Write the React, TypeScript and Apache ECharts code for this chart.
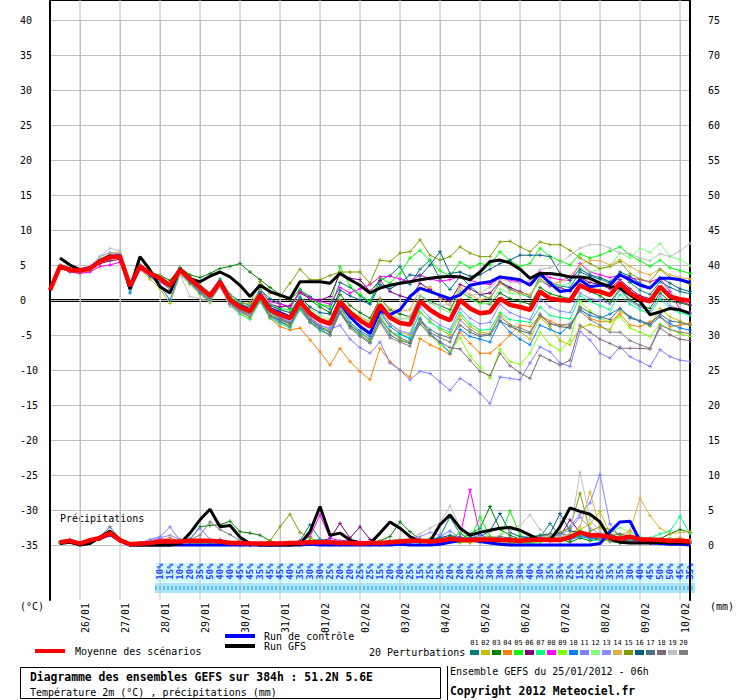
import React, { useEffect, useRef } from 'react';
import * as echarts from 'echarts';

const FONT = '"DejaVu Sans Mono", monospace';

// 65 time steps, 6 h apart, from 25/01/2012 06h to 10/02/2012 06h
const stepHours = Array.from({ length: 65 }, (_, i) => String(i * 6));
const dateLabels = ['26/01','27/01','28/01','29/01','30/01','31/01','01/02','02/02','03/02','04/02','05/02','06/02','07/02','08/02','09/02','10/02'];
const firstDateIdx = 3; // 26/01 00h is step 3, then every 4 steps

const leftTicks = { min: -35, max: 40, step: 5 };
const rightTicks = { min: 0, max: 75, step: 5 };

// ---------- temperature (°C) ----------
const meanT = [1.4, 4.8,4.3,4.2,4.5, 5.5,6.1,6.2,2.0, 4.8,3.8,3.1,2.1, 4.3,3.0,1.8,0.6, 2.6,0.0,-1.0,-1.6, 0.7,-1.4,-2.1,-2.6, -0.2,-1.9,-2.9,-3.4, -0.2,-1.8,-2.9,-3.8, -0.7,-2.5,-3.3,-3.5, -0.2,-1.4,-2.3,-2.9, 0.0,-1.2,-1.9,-1.7, 0.2,-0.7,-1.0,-1.4, 1.2,0.2,0.0,-0.1, 2.1,1.4,1.2,0.7, 2.4,1.0,0.2,-0.2, 1.9,0.5,0.1,-0.1];
const gfsT = [null, 6.0,5.0,4.3,4.5, 5.6,6.3,6.2,1.6, 6.2,4.3,1.9,1.0, 4.5,3.1,2.6,3.4, 4.0,3.3,2.1,0.5, 2.1,1.2,0.7,0.2, 2.6,2.6,2.6,2.4, 3.8,2.9,2.1,1.0, 1.7,2.1,2.4,2.6, 2.9,3.1,3.3,3.4, 3.3,2.9,4.0,5.5, 5.7,5.3,4.4,3.1, 3.8,3.8,3.6,3.3, 3.3,3.1,2.4,1.9, 1.7,0.7,-0.2,-2.1, -1.7,-1.2,-1.4,-1.9];
const controlT = [null, 4.9,4.4,4.3,4.6, 5.6,6.2,6.3,2.0, 4.9,3.8,3.0,2.0, 4.3,3.0,1.8,0.6, 2.6,0.0,-0.9,-1.5, 0.8,-1.2,-1.8,-2.4, -0.2,-1.8,-2.8,-3.4, -0.4,-2.4,-3.8,-4.8, -1.6,-2.1,-1.4,0.5, 1.7,1.2,0.7,0.2, 0.7,2.1,2.4,2.6, 3.3,3.1,2.9,2.1, 3.8,2.4,1.2,1.4, 2.9,1.9,2.1,2.1, 3.6,2.9,2.1,1.7, 3.1,3.1,2.9,2.5];

const p01T = [null, 5.0,4.5,4.0,4.3, 5.3,6.0,6.4,2.3, 5.0,3.5,2.8,1.8, 4.6,3.3,2.2,1.0, 3.0,0.8,-0.2,-0.8, 1.5,0.2,-0.5,-1.2, 1.4,0.5,-0.6,-1.3, 2.5,1.8,0.6,-0.4, 2.8,3.5,4.8,2.2, 4.4,5.7,3.0,1.5, 3.4,2.0,0.8,0.2, 2.5,1.6,0.9,0.4, 3.4,2.6,2.0,1.8, 4.0,3.4,3.0,2.4, 3.8,2.5,1.4,0.8, 2.6,1.8,1.2,0.9];
const p02T = [null, 4.5,4.0,3.8,4.2, 5.2,5.9,6.0,1.6, 4.4,3.0,1.6,-0.5, 3.6,2.2,0.8,-0.4, 2.0,-0.8,-2.0,-2.6, 0.0,-2.2,-3.0,-3.6, -1.0,-2.8,-3.9,-4.4, -1.2,-2.5,-3.6,-4.6, -1.4,-3.4,-4.6,-5.0, -1.8,-3.0,-4.2,-5.0, -2.2,-3.8,-4.6,-4.8, -2.0,-3.5,-4.5,-5.6, -2.5,-3.8,-5.8,-6.4, -4.0,-3.5,-3.9,-4.2, -1.6,-2.4,-3.0,-3.8, -1.2,-2.4,-3.0,-3.6];
const p03T = [null, 4.8,4.4,4.3,4.7, 5.6,6.0,6.1,2.5, 5.0,4.0,3.5,2.8, 4.6,3.6,3.2,3.8, 4.5,4.8,5.2,4.0, 2.9,1.8,0.8,0.0, 1.5,0.0,-1.0,-1.8, 0.8,-0.8,-1.8,-2.6, 0.2,-1.4,-2.0,-2.4, 0.6,-0.2,-0.8,-1.4, 1.2,0.3,-0.4,-0.6, 1.0,0.2,-0.2,-0.6, 1.8,0.9,0.5,0.2, 2.2,1.2,0.6,-0.3, 1.6,0.0,-0.8,-1.2, 1.0,-0.2,-0.4,-0.8];
const p04T = [null, 4.6,4.2,4.1,4.4, 5.4,6.0,6.1,1.8, 4.7,3.6,2.9,1.9, 4.0,2.8,1.5,0.2, 2.2,-0.5,-1.6,-2.3, -0.2,-2.6,-3.8,-4.3, -4.0,-5.7,-7.4,-9.3, -6.9,-8.8,-10.2,-11.4, -6.9,-8.8,-10.0,-11.0, -5.5,-6.4,-7.0,-7.8, -4.6,-6.2,-7.6,-7.6, -6.4,-5.0,-3.6,-3.8, -2.2,-3.0,-3.6,-3.8, -1.2,-2.6,-3.1,-3.1, -2.0,-3.6,-3.8,-3.1, -2.4,-3.8,-3.6,-3.3];
const p05T = [null, 4.9,4.4,4.3,4.6, 5.7,6.3,6.4,2.2, 5.0,3.9,3.2,2.3, 4.4,3.2,2.0,0.9, 2.8,0.4,-0.6,-1.0, 1.6,-0.6,-1.2,-1.4, 1.5,0.2,-0.6,-0.9, 4.8,2.0,0.8,-0.2, 3.2,2.4,3.8,6.0, 7.1,5.6,4.2,3.4, 5.4,4.6,5.2,5.0, 6.9,5.6,4.8,5.2, 7.4,6.2,5.6,5.0, 6.6,6.0,6.4,7.0, 7.6,6.4,5.6,4.8, 5.7,4.6,4.2,3.8];
const p06T = [null, 4.7,4.3,4.2,4.4, 5.2,5.6,5.8,1.7, 4.6,3.6,3.0,2.0, 4.2,2.9,1.6,0.4, 2.6,0.2,-0.6,-1.2, 1.2,-0.6,-1.0,-0.8, 1.0,0.2,0.0,0.5, 3.8,3.1,2.9,1.2, 2.8,1.2,0.6,0.2, 2.4,1.5,0.4,-0.2, 2.2,1.6,0.8,1.0, 2.6,1.8,1.2,0.6, 2.8,2.0,1.8,1.2, 3.2,2.5,2.2,1.6, 2.9,1.6,0.6,0.2, 1.6,0.4,-0.2,-0.7];
const p07T = [null, 4.6,4.1,4.1,4.4, 5.4,6.2,6.3,1.9, 4.9,3.7,2.8,1.6, 4.1,2.6,1.2,-0.2, 2.0,-0.8,-2.0,-2.8, -0.2,-2.6,-3.4,-4.0, -1.4,-3.2,-4.4,-5.0, -1.6,-3.6,-4.8,-5.6, -2.6,-4.6,-5.0,-5.4, -1.6,-3.2,-4.0,-4.6, -1.8,-3.4,-4.3,-4.2, -1.8,-2.8,-3.0,-3.2, -1.0,-2.2,-2.5,-2.7, 0.6,-0.2,-0.8,-1.4, 0.8,-0.6,-1.4,-2.0, 0.2,-1.2,-1.8,-2.2];
const p08T = [null, 4.6,4.0,3.8,4.0, 4.8,5.0,5.4,1.8, 4.4,3.4,2.6,1.6, 4.0,2.6,1.4,0.4, 2.4,0.0,-0.6,-1.0, 1.4,-0.2,-0.6,-0.9, 1.2,0.2,-0.2,-0.6, 1.8,1.0,1.6,2.2, 3.3,3.4,3.0,2.6, 3.6,3.0,2.7,2.9, 3.4,2.8,2.4,2.2, 3.2,2.8,2.6,2.4, 4.0,3.2,2.9,2.8, 5.2,4.0,3.6,3.2, 3.6,3.2,2.9,2.6, 3.1,1.2,-1.4,-1.9];
const p09T = [null, 4.7,4.2,4.1,4.5, 5.5,6.0,6.1,2.1, 4.7,3.6,2.8,1.8, 4.0,2.6,1.2,0.0, 2.0,-0.8,-1.8,-2.4, 0.2,-2.0,-2.8,-3.4, -0.6,-2.6,-3.8,-4.4, -1.4,-3.4,-4.6,-5.8, -2.2,-4.4,-5.6,-6.2, -3.0,-5.0,-6.4,-7.4, -5.4,-8.0,-9.6,-11.2, -7.0,-8.8,-9.2,-7.6, -4.6,-6.4,-7.2,-5.8, -0.2,-1.6,-2.6,-3.2, -2.4,-4.0,-4.6,-5.2, -3.4,-4.2,-4.8,-5.2];
const p10T = [null, 4.7,4.4,4.2,4.5, 5.8,6.4,6.0,1.0, 4.6,3.4,2.0,0.0, 3.8,2.4,1.0,-0.2, 2.2,-0.6,-1.8,-2.2, 0.2,-2.2,-3.0,-3.8, -0.8,-2.8,-4.0,-4.6, -1.0,-3.2,-4.4,-5.2, -1.8,-3.8,-4.8,-5.6, -2.6,-4.8,-6.0,-7.6, -4.2,-5.2,-5.6,-6.0, -3.0,-4.6,-5.6,-6.4, -3.6,-4.2,-4.8,-3.6, -1.4,-2.2,-2.6,-2.0, -1.2,-2.4,-3.0,-3.6, -2.4,-3.4,-4.0,-4.3];
const p11T = [null, 4.8,4.3,4.2,4.5, 5.6,6.3,6.6,2.4, 4.9,3.9,3.2,2.0, 4.2,2.9,1.6,0.3, 2.3,-0.4,-1.4,-2.0, 0.4,-1.8,-2.6,-3.2, -0.8,-2.6,-3.6,-4.2, -3.6,-5.6,-6.8,-7.6, -6.0,-9.0,-10.0,-11.4, -10.2,-10.5,-11.7,-12.9, -11.2,-12.1,-13.3,-14.8, -11.0,-11.2,-11.4,-9.0, -6.7,-7.4,-9.0,-9.5, -4.5,-5.7,-7.6,-8.3, -6.7,-8.1,-8.8,-9.5, -7.1,-8.1,-8.6,-8.8];
const p12T = [null, 4.8,4.3,4.3,4.6, 5.6,6.2,6.3,1.9, 4.8,3.9,3.3,2.4, 4.5,3.2,2.2,1.0, 2.8,0.6,-0.4,-1.0, 1.4,-0.6,-1.4,-1.8, 0.6,-1.2,-2.2,-2.8, 0.0,-1.4,-2.4,-3.0, -0.4,-2.0,-2.6,-2.8, 0.6,-0.4,-1.2,-1.8, 1.2,0.2,-0.6,-0.4, 1.6,1.0,0.8,0.6, 2.8,2.2,2.0,2.4, 4.6,4.0,4.4,4.8, 6.7,6.0,7.4,6.8, 8.1,6.2,5.8,4.9];
const p13T = [null, 4.9,4.5,4.4,4.7, 6.2,6.8,6.6,2.2, 5.0,3.9,3.0,1.9, 4.3,3.0,1.7,0.4, 2.4,-0.2,-1.2,-1.8, 0.6,-1.6,-2.4,-3.0, -0.4,-2.4,-3.6,-4.0, -0.8,-2.6,-3.8,-4.6, -1.6,-3.4,-4.4,-4.8, -1.0,-2.6,-3.6,-4.2, -1.2,-2.6,-3.4,-3.2, -0.6,-1.8,-2.4,-2.8, 0.2,-1.0,-1.6,-1.8, 1.0,0.2,0.0,-0.6, 1.4,-0.2,-1.0,-1.6, 0.6,-0.8,-1.4,-1.8];
const p14T = [null, 4.9,4.6,4.5,4.8, 5.9,6.6,6.9,2.1, 5.1,4.0,3.3,2.3, 4.5,3.1,1.9,0.7, 2.7,0.1,-0.9,-1.4, 0.9,-1.2,-1.9,-2.4, -0.2,-1.8,-2.6,-3.0, -0.2,-1.6,-2.4,-3.2, 0.2,-1.2,-1.6,-1.4, 1.6,1.9,0.2,-0.8, 1.8,0.8,0.0,0.4, 2.4,1.4,1.0,0.8, 3.0,2.2,2.6,3.4, 5.0,5.7,5.6,5.0, 5.8,4.8,4.0,3.6, 4.4,3.6,3.2,3.0];
const p15T = [null, 4.9,4.5,4.3,4.5, 5.4,6.0,6.2,2.0, 4.8,3.7,3.0,2.0, 4.2,2.9,1.8,0.7, 2.8,0.5,-0.6,-0.4, 2.6,1.0,0.5,2.4, 4.4,2.9,2.9,3.5, 4.0,4.0,4.0,2.4, 5.7,5.5,6.7,6.9, 8.6,6.4,5.7,6.2, 7.6,6.7,6.2,6.2, 8.3,8.4,7.6,6.9, 8.3,7.9,7.9,7.1, 6.0,5.2,4.5,4.8, 5.5,3.8,3.0,2.6, 4.4,3.2,2.8,2.2];
const p16T = [null, 4.7,4.2,4.2,4.4, 5.3,5.9,6.1,2.0, 4.8,3.8,3.0,2.0, 4.2,3.0,1.8,0.7, 2.8,0.2,-0.6,-1.2, 1.0,-0.8,-1.4,-1.8, 0.4,-1.0,-1.8,-2.0, 1.4,0.6,0.0,-0.6, 2.2,1.6,2.4,3.6, 3.4,5.0,6.9,3.8, 4.0,3.4,3.6,4.4, 5.2,5.7,6.4,6.4, 6.4,6.2,3.8,2.8, 4.4,3.6,3.2,2.6, 4.0,3.4,2.4,1.8, 3.2,2.4,1.6,1.2];
const p17T = [null, 4.6,4.1,4.1,4.4, 5.5,6.1,6.3,1.7, 4.6,3.5,2.7,1.6, 4.0,2.6,1.2,0.0, 2.0,-0.6,-1.6,-2.2, 0.0,-2.2,-2.8,-3.4, -1.2,-3.2,-4.2,-5.0, -1.8,-3.8,-5.0,-6.0, -3.0,-5.0,-5.8,-6.2, -2.8,-4.2,-5.0,-5.4, -3.6,-4.6,-5.2,-5.0, -3.0,-3.8,-4.4,-4.8, -2.2,-3.4,-3.8,-4.0, -1.0,-1.8,-2.4,-2.8, -1.2,-2.6,-3.0,-3.4, -2.0,-3.0,-3.2,-3.6];
const p18T = [null, 4.7,4.3,4.1,4.4, 5.5,6.2,6.3,1.8, 4.7,3.6,2.9,1.9, 4.1,2.8,1.5,0.3, 2.3,-0.3,-1.4,-2.0, 0.3,-1.8,-2.6,-3.2, -0.8,-2.8,-3.8,-4.6, -1.6,-3.6,-4.6,-5.6, -2.6,-4.4,-5.4,-6.0, -3.4,-5.0,-6.0,-6.8, -7.0,-8.6,-10.2,-10.8, -7.6,-9.4,-10.4,-11.2, -7.9,-8.6,-9.3,-8.6, -3.6,-4.6,-5.6,-6.2, -6.9,-6.9,-6.9,-7.0, -4.0,-5.0,-5.6,-5.8];
const p19T = [null, 5.0,4.6,4.5,4.9, 6.2,7.4,7.0,2.4, 5.2,3.8,2.8,1.7, 3.6,0.5,0.2,-0.2, 1.8,-0.8,-1.8,-2.2, 0.4,-1.6,-2.2,-2.8, -0.2,-1.8,-2.8,-3.4, -0.2,-1.8,-3.0,-3.6, -0.6,-2.2,-2.8,-2.4, 0.6,-0.4,-0.8,-0.6, 1.4,0.6,1.0,1.8, 3.0,2.6,2.4,2.8, 4.4,4.6,5.2,6.4, 7.4,7.9,7.9,7.4, 6.7,6.6,6.0,5.6, 6.6,6.2,7.0,8.1];
const p20T = [null, 4.7,4.2,4.1,4.3, 5.4,6.0,6.1,1.9, 4.8,3.8,3.0,2.0, 4.2,2.8,1.4,0.2, 2.2,-0.6,-1.6,-2.4, 0.0,-2.4,-3.2,-3.8, -1.0,-3.0,-4.2,-5.0, -1.8,-4.0,-5.2,-6.2, -3.2,-5.4,-6.0,-6.6, -3.0,-4.6,-5.4,-6.0, -2.8,-4.2,-5.0,-4.8, -2.4,-3.6,-4.0,-4.6, -2.0,-3.4,-3.6,-3.4, -1.6,-2.8,-3.6,-4.6, -4.6,-5.8,-6.4,-6.9, -3.6,-4.2,-4.6,-4.8];

// ---------- precipitation (mm) ----------
const meanP = [null, 0.4,0.6,0.2,0.7,1.0,1.7,0.7,0.1, 0.2,0.3,0.5,0.5,0.5,0.6,0.6,0.6, 0.5,0.3,0.3,0.2,0.2,0.2,0.2,0.3, 0.3,0.4,0.4,0.4,0.3,0.3,0.2,0.3, 0.3,0.4,0.5,0.6,0.6,0.5,0.6,0.9, 0.7,0.7,0.8,0.8,0.7,0.7,0.6,0.7, 0.8,0.7,0.7,1.1,1.8,1.4,1.4,1.1, 0.9,1.2,0.8,0.8,0.7,0.6,0.6,0.5];
const gfsP = [null, 0.2,0.4,0.0,0.2,1.1,2.0,0.7,0.0, 0.0,0.0,0.0,0.0,0.2,1.7,3.6,5.1, 2.6,2.8,1.1,0.2,0.0,0.0,0.0,0.0, 0.1,1.9,5.5,1.4,1.7,0.7,0.3,0.2, 1.7,3.3,2.4,1.2,0.5,0.5,2.9,4.3, 2.4,1.4,1.8,2.1,2.4,2.5,2.1,1.4, 0.7,0.7,2.6,5.3,4.8,4.4,3.3,0.9, 0.4,0.3,0.3,0.3,0.4,0.3,0.3,0.3];
const controlP = [null, 0.3,0.5,0.1,0.6,0.9,1.5,0.6,0.0, 0.0,0.0,0.0,0.0,0.0,0.0,0.0,0.0, 0.0,0.0,0.0,0.0,0.0,0.0,0.0,0.0, 0.0,0.1,0.0,0.0,0.0,0.0,0.0,0.0, 0.0,0.0,0.1,0.0,0.0,0.0,0.1,0.4, 0.6,0.8,0.5,0.3,0.1,0.0,0.0,0.0, 0.0,0.0,0.0,0.0,0.0,0.0,0.2,1.9, 3.3,3.4,0.6,0.3,0.2,0.1,0.1,0.0];

const p01P = [null, 0.3,0.5,0.1,0.6,0.9,1.6,0.6,0.0, 0.1,0.2,0.4,0.6,0.3,0.5,0.8,0.4, 0.2,0.1,0.0,0.0,0.0,0.1,0.2,0.3, 0.6,2.9,0.8,0.2,0.1,0.3,0.2,0.0, 0.1,0.2,0.4,0.5,0.3,0.6,1.2,4.0, 1.6,0.9,0.6,0.4,0.8,1.0,0.6,0.9, 1.1,3.1,1.2,0.7,1.5,0.9,1.0,0.6, 0.4,0.8,0.5,0.3,0.2,0.4,0.3,0.2];
const p02P = [null, 0.4,0.6,0.2,0.5,0.8,1.4,0.5,0.0, 0.0,0.0,0.1,0.0,0.0,0.0,0.1,0.0, 0.0,0.1,0.2,0.1,0.0,0.0,0.0,0.1, 0.2,0.1,0.0,0.2,0.3,0.1,0.0,0.1, 0.2,0.3,0.2,0.6,0.4,0.3,0.5,0.8, 0.5,0.3,0.6,0.4,0.3,0.2,0.5,0.6, 0.4,0.8,0.6,1.0,2.2,3.0,4.8,1.6, 0.8,0.6,0.4,0.5,0.8,0.6,0.4,0.3];
const p03P = [null, 0.3,0.5,0.2,0.6,1.0,1.5,0.6,0.1, 0.2,0.3,0.4,0.3,0.5,0.8,2.6,2.8, 2.9,3.4,1.9,1.7,1.4,0.6,0.2,0.1, 0.1,0.3,0.2,0.4,0.2,0.1,0.0,0.3, 0.6,1.2,3.3,1.9,0.8,0.6,0.4,1.2, 0.8,1.6,2.4,5.5,2.2,1.4,0.8,0.5, 0.6,1.2,0.8,0.4,1.0,0.6,0.9,0.5, 0.3,0.6,0.4,0.5,0.9,1.6,2.2,1.8];
const p04P = [null, 0.4,0.7,0.2,0.6,1.1,1.8,0.7,0.1, 0.2,0.3,0.6,1.1,0.4,0.3,0.2,0.1, 0.1,0.0,0.0,0.0,0.0,0.0,0.0,0.0, 0.1,0.2,0.1,0.0,0.0,0.1,0.0,0.0, 0.0,0.1,0.2,0.3,0.5,0.4,0.6,0.9, 0.6,0.4,0.5,0.7,0.6,0.4,0.3,0.5, 0.7,0.5,0.8,0.9,1.4,1.0,1.2,0.9, 0.6,2.0,0.9,0.6,0.5,0.8,1.0,0.7];
const p05P = [null, 0.4,0.6,0.3,0.7,1.0,1.6,0.7,0.2, 0.2,0.3,0.5,0.4,0.6,0.7,0.5,0.6, 0.4,0.2,0.3,0.1,0.2,0.1,0.3,0.2, 0.2,0.5,0.4,0.3,0.4,0.2,0.1,0.2, 0.3,0.5,0.6,0.4,0.8,0.5,0.7,1.0, 1.7,0.8,4.0,1.2,0.9,4.9,1.4,0.8, 0.6,0.7,0.5,0.9,1.3,1.6,1.2,0.8, 0.7,1.0,0.6,0.4,0.3,0.2,0.4,0.3];
const p06P = [null, 0.3,0.5,0.2,0.6,0.9,1.4,0.6,0.1, 0.1,0.2,0.3,0.4,0.3,0.5,0.6,0.5, 0.8,0.4,0.2,0.1,0.0,0.1,0.0,0.1, 0.2,0.4,0.6,0.9,3.1,1.0,2.6,0.8, 0.3,0.2,0.3,0.4,0.5,0.3,0.4,0.7, 0.5,0.6,0.4,0.6,0.8,0.5,0.7,0.9, 1.0,0.6,1.2,3.6,1.8,1.1,0.9,0.7, 0.5,0.8,0.6,0.4,0.3,0.5,0.6,0.4];
const p07P = [null, 0.4,0.6,0.1,0.6,0.9,1.7,0.8,0.1, 0.3,0.4,0.6,0.5,0.6,0.5,0.4,0.6, 0.3,0.2,0.1,0.0,0.0,0.0,0.1,0.2, 0.1,0.2,0.3,0.1,0.2,0.1,0.0,0.1, 0.1,0.2,0.4,0.6,0.7,0.5,0.8,0.6, 0.4,1.2,2.5,0.9,0.6,0.8,0.5,0.3, 0.5,0.6,0.8,1.0,1.4,0.8,0.6,0.9, 1.2,0.8,0.6,1.0,1.6,2.0,4.1,1.6];
const p08P = [null, 0.3,0.5,0.2,0.7,1.0,1.6,0.6,0.1, 0.2,0.4,0.9,0.7,0.5,0.6,0.7,0.6, 0.4,0.3,0.4,0.3,0.2,0.4,0.3,0.4, 0.6,1.2,4.3,1.0,0.6,0.7,0.5,0.4, 0.3,0.2,0.4,0.5,0.6,0.8,0.6,0.9, 1.2,7.9,1.5,0.8,1.0,0.6,0.7,0.5, 0.8,0.6,0.9,1.2,1.6,1.0,0.8,0.6, 0.5,0.4,0.6,0.5,0.3,0.4,0.3,0.2];
const p09P = [null, 0.4,0.6,0.2,0.6,1.0,1.5,0.7,0.0, 0.1,0.2,0.3,0.4,0.5,0.4,0.3,0.2, 0.1,0.0,0.0,0.0,0.0,0.0,0.1,0.1, 0.0,0.1,0.2,0.1,0.0,0.0,0.0,0.1, 0.2,0.1,0.3,0.4,0.3,0.6,0.5,0.4, 0.3,0.5,0.4,0.2,0.1,0.2,0.3,0.2, 0.4,0.6,1.0,1.6,2.2,1.2,0.8,0.6, 0.9,0.7,0.5,0.4,0.6,0.5,0.4,0.3];
const p10P = [null, 0.4,0.5,0.2,0.7,1.1,1.8,0.8,0.1, 0.2,0.3,0.5,0.6,0.7,0.5,0.6,0.4, 0.3,0.2,0.1,0.0,0.0,0.0,0.1,0.2, 0.3,0.6,0.8,0.4,0.2,0.3,0.2,0.1, 0.2,0.4,0.6,0.5,0.4,0.7,0.9,0.6, 0.8,1.0,1.4,0.9,0.7,0.6,0.5,0.8, 1.0,0.9,0.7,0.8,1.2,1.0,0.9,1.4, 1.0,0.8,0.6,0.5,0.4,0.6,0.5,0.4];
const p11P = [null, 0.4,0.6,0.2,0.6,1.0,1.6,0.7,0.1, 0.3,0.8,1.2,2.6,0.6,0.9,2.4,0.8, 0.4,0.3,0.2,0.1,0.0,0.1,0.1,0.2, 0.2,0.3,0.4,0.6,0.5,0.4,0.3,0.2, 0.3,0.5,0.4,0.6,0.8,0.6,1.2,2.0, 1.0,0.8,0.6,0.7,0.9,0.8,0.6,1.0, 1.2,1.4,1.6,2.6,4.4,6.0,10.1,3.0, 1.2,0.8,0.5,0.6,0.4,0.5,0.4,0.3];
const p12P = [null, 0.3,0.5,0.2,0.6,0.9,1.5,0.6,0.1, 0.2,0.3,0.4,0.5,0.4,0.6,0.5,0.4, 0.3,0.2,0.1,0.1,0.0,0.1,0.2,0.1, 0.2,0.3,0.2,0.3,0.4,0.2,0.1,0.2, 0.3,0.4,0.5,0.7,0.6,0.8,0.7,1.0, 0.9,0.7,0.8,1.1,0.9,0.7,0.8,1.2, 1.4,1.0,0.9,1.2,2.0,1.6,1.4,1.8, 2.5,1.8,1.2,0.9,0.8,1.0,0.7,0.5];
const p13P = [null, 0.4,0.6,0.2,0.7,1.0,1.9,0.8,0.1, 0.2,0.6,1.0,1.4,0.8,0.6,0.5,0.4, 0.2,0.1,0.2,0.1,0.0,0.1,0.2,0.2, 0.3,0.5,0.6,0.5,0.6,0.4,0.3,0.2, 0.3,0.6,0.8,0.7,1.2,1.8,1.4,1.0, 0.8,0.6,0.9,1.0,0.8,0.7,0.9,1.4, 1.2,1.0,1.5,2.2,4.0,2.4,1.6,1.2, 1.0,1.4,1.0,0.8,0.6,0.7,0.5,0.4];
const p14P = [null, 0.4,0.6,0.2,0.6,1.0,1.6,0.7,0.1, 0.2,0.3,0.4,0.5,0.6,0.5,0.7,0.6, 0.4,0.2,0.1,0.1,0.0,0.1,0.1,0.2, 0.2,0.3,0.5,0.4,0.3,0.2,0.2,0.3, 0.4,0.5,0.8,0.6,0.7,0.9,0.8,0.7, 0.9,0.6,0.7,0.8,0.6,0.8,1.0,0.7, 0.9,1.2,1.0,1.5,2.6,7.6,2.4,1.6, 1.4,2.0,6.7,4.2,2.4,1.6,1.8,1.9];
const p15P = [null, 0.3,0.5,0.2,0.6,0.9,1.5,0.7,0.1, 0.2,0.3,0.4,0.5,0.6,0.7,0.6,0.5, 0.4,0.3,0.2,0.1,0.1,0.6,2.6,4.4, 1.8,1.0,0.5,0.3,0.2,0.3,0.2,0.1, 0.2,0.4,0.6,0.5,0.7,0.6,0.8,0.9, 0.7,0.9,1.0,1.2,1.0,0.8,0.9,1.1, 1.3,1.5,1.8,2.4,7.4,2.0,2.6,2.2, 1.4,1.0,0.8,0.7,0.6,0.5,0.7,0.6];
const p16P = [null, 0.4,0.6,0.2,0.7,1.0,1.7,0.7,0.1, 0.2,0.3,0.5,0.6,0.5,0.6,0.7,0.5, 0.3,0.2,0.1,0.0,0.1,0.0,0.1,0.2, 0.3,0.5,0.7,0.6,0.4,0.3,0.2,0.2, 0.3,0.4,0.6,0.5,0.6,0.8,1.0,1.4, 1.0,0.9,1.2,2.0,4.5,1.8,1.2,1.0, 1.4,1.6,4.5,2.0,1.8,1.6,1.4,1.5, 1.0,0.8,0.6,0.5,0.7,0.6,0.8,0.5];
const p17P = [null, 0.4,0.7,0.3,0.8,1.2,2.6,0.9,0.1, 0.2,0.3,0.4,0.5,0.4,0.6,0.5,0.4, 0.3,0.2,0.1,0.0,0.0,0.1,0.0,0.1, 0.2,0.3,0.4,0.3,0.2,0.3,0.2,0.1, 0.2,0.4,0.3,0.6,0.5,0.7,0.6,0.8, 0.9,1.1,0.8,0.9,1.2,1.0,0.8,0.7, 0.9,1.1,1.6,1.4,1.8,1.6,1.2,1.3, 1.6,1.2,0.8,0.6,0.5,0.6,0.5,0.4];
const p18P = [null, 0.4,0.6,0.2,0.6,1.0,1.7,0.7,0.1, 0.2,0.4,0.5,0.6,0.5,0.6,0.5,0.4, 0.3,0.2,0.1,0.1,0.0,0.0,0.1,0.1, 0.2,0.3,0.2,0.3,0.2,0.2,0.1,0.2, 0.2,0.3,0.4,0.5,0.4,0.6,0.5,0.7, 0.6,0.5,0.8,0.6,0.5,0.4,0.5,0.6, 0.7,0.8,1.0,1.2,1.6,1.2,1.0,0.8, 0.6,0.9,0.7,0.6,0.5,0.4,0.5,0.4];
const p19P = [null, 0.4,0.6,0.2,0.6,1.0,1.8,0.8,0.1, 0.3,0.4,0.5,0.6,0.6,0.7,0.8,0.7, 0.6,0.4,0.3,0.1,0.1,0.2,0.3,0.2, 0.3,0.4,0.5,0.4,0.3,0.4,0.2,0.3, 0.4,0.6,0.8,0.9,1.6,2.4,3.2,5.6, 2.6,1.4,1.2,1.0,1.4,2.0,2.8,4.3, 2.2,1.4,1.2,1.6,10.4,3.6,2.0,1.2, 0.9,1.0,0.8,0.7,0.6,0.8,0.7,0.6];
const p20P = [null, 0.4,0.6,0.2,0.7,1.0,1.8,0.8,0.1, 0.2,0.3,0.4,0.5,0.6,0.8,1.4,3.3, 2.2,1.5,0.6,0.2,0.1,0.2,0.1,0.3, 0.4,0.6,0.5,0.4,0.3,0.2,0.1,0.2, 0.3,0.5,0.4,0.7,0.6,0.9,0.7,0.8, 0.6,0.7,1.0,0.8,0.7,0.9,0.8,0.6, 0.8,1.0,0.9,1.3,1.5,1.2,1.0,0.9, 0.8,1.1,0.9,0.7,0.6,0.8,0.6,0.5];

const memberT = [p01T,p02T,p03T,p04T,p05T,p06T,p07T,p08T,p09T,p10T,p11T,p12T,p13T,p14T,p15T,p16T,p17T,p18T,p19T,p20T];
const memberP = [p01P,p02P,p03P,p04P,p05P,p06P,p07P,p08P,p09P,p10P,p11P,p12P,p13P,p14P,p15P,p16P,p17P,p18P,p19P,p20P];
const memberNames = ['01','02','03','04','05','06','07','08','09','10','11','12','13','14','15','16','17','18','19','20'];
const memberColors = ['#008080','#c0c000','#008000','#ff8000','#00ff00','#800080','#00ff80','#ff00ff','#80ff00','#0080ff','#8080ff','#80ff80','#8c8cff','#e0b040','#80a000','#006080','#507080','#806878','#c0c0c0','#808080'];

// probability row (first value at step 11)
const pctStart = 11;
const pctValues = [10,15,10,20,35,50,40,40,45,45,35,45,45,40,35,30,30,25,20,20,25,25,15,20,20,25,15,25,25,20,20,20,25,30,30,30,30,40,30,35,35,25,15,25,25,35,35,30,40,45,50,50,45,35];

const PLUS = 'path://M2,0L3,0L3,2L5,2L5,3L3,3L3,5L2,5L2,3L0,3L0,2L2,2Z';
const GRID_GREY = '#c0c0c0';

function buildOption() {
  const isDateIdx = (idx: number) => idx >= firstDateIdx && (idx - firstDateIdx) % 4 === 0;
  const dateIdx = dateLabels.map((_, k) => firstDateIdx + 4 * k);
  const series: any[] = [];

  // vertical day grid lines on the full-height grid, positioned by its category axis
  series.push({
    type: 'custom', coordinateSystem: 'cartesian2d', xAxisIndex: 0, yAxisIndex: 0, z: 1,
    data: dateIdx.map((i) => [i, 0]),
    renderItem: (_p: any, api: any) => {
      const a = api.coord([api.value(0), 0]);
      const b = api.coord([api.value(0), 600]);
      return { type: 'line', shape: { x1: a[0], y1: a[1], x2: b[0], y2: b[1] }, style: { stroke: GRID_GREY, lineWidth: 1 } };
    },
  });

  memberT.forEach((d, k) => {
    series.push({
      type: 'line', name: 'P' + memberNames[k], xAxisIndex: 1, yAxisIndex: 2, data: d,
      lineStyle: { width: 1, color: memberColors[k] }, itemStyle: { color: memberColors[k] },
      symbol: PLUS, symbolSize: 4, showSymbol: true, showAllSymbol: true, clip: false, silent: true, z: 2,
      markLine: k === 0 ? {
        silent: true, symbol: 'none', label: { show: false }, z: 1,
        lineStyle: { color: '#000', width: 1, type: 'solid' },
        data: [{ yAxis: 0.143 }, { yAxis: -0.143 }],
      } : (k === 1 ? {
        silent: true, symbol: 'none', label: { show: false }, z: 1,
        lineStyle: { color: GRID_GREY, width: 1, type: 'solid' },
        data: dateIdx.map((i) => ({ xAxis: i })),
      } : undefined),
    });
  });
  memberP.forEach((d, k) => {
    series.push({
      type: 'line', name: 'P' + memberNames[k], xAxisIndex: 1, yAxisIndex: 3, data: d,
      lineStyle: { width: 1, color: memberColors[k] }, itemStyle: { color: memberColors[k] },
      symbol: PLUS, symbolSize: 4, showSymbol: true, showAllSymbol: true, clip: false, silent: true, z: 2,
    });
  });
  const main = [
    { name: 'Run de contrôle', color: '#0000ff', t: controlT, p: controlP, w: 3, z: 3 },
    { name: 'Run GFS', color: '#000000', t: gfsT, p: gfsP, w: 3, z: 4 },
    { name: 'Moyenne des scénarios', color: '#ff0000', t: meanT, p: meanP, w: 4.5, z: 5 },
  ];
  main.forEach((m) => {
    series.push({ type: 'line', name: m.name, xAxisIndex: 1, yAxisIndex: 2, data: m.t, color: m.color,
      lineStyle: { width: m.w, color: m.color }, symbol: 'none', clip: false, silent: true, z: m.z });
    series.push({ type: 'line', name: m.name, xAxisIndex: 1, yAxisIndex: 3, data: m.p, color: m.color,
      lineStyle: { width: m.w, color: m.color }, symbol: 'none', clip: false, silent: true, z: m.z });
  });
  series.push({
    type: 'scatter', name: 'pct', xAxisIndex: 0, yAxisIndex: 0, symbolSize: 1, silent: true, z: 6,
    itemStyle: { color: 'rgba(0,0,0,0)' },
    data: pctValues.map((p, k) => [pctStart + k, 571.5, p]),
    label: { show: true, position: 'inside', rotate: 90, formatter: (pr: any) => pr.value[2] + '%',
      fontSize: 9, fontWeight: 'bold', color: '#0000ff', fontFamily: FONT },
  });

  const tx = (text: string, x: number, y: number, size: number, bold = false, align = 'left') => ({
    type: 'text', x, y, silent: true,
    style: { text, fontSize: size, fontFamily: FONT, fontWeight: bold ? 'bold' : 'normal', fill: '#000', align, verticalAlign: 'middle' },
  });

  const graphic: any[] = [
    { type: 'rect', silent: true, z: -1, shape: { x: 155, y: 563, width: 540, height: 19 }, style: { fill: '#ccfaff' } },
    { type: 'rect', silent: true, z: -1, shape: { x: 155, y: 583, width: 540, height: 10 }, style: { fill: '#a9e4fb' } },
    { type: 'line', silent: true, z: -1, shape: { x1: 155, y1: 588, x2: 695, y2: 588 }, style: { stroke: '#5ec4ef', lineWidth: 4, lineDash: [2, 2] } },
    tx('Précipitations', 60, 518, 10),
    tx('(°C)', 20, 606, 10),
    tx('(mm)', 710, 606, 10),
    tx('20 Perturbations', 369, 652, 10),
    { type: 'rect', silent: true, shape: { x: 20.5, y: 667.5, width: 420, height: 31 }, style: { fill: '#fff', stroke: '#000', lineWidth: 1 } },
    tx('Diagramme des ensembles GEFS sur 384h : 51.2N 5.6E', 30, 677, 11.4, true),
    tx('Température 2m (°C) , précipitations (mm)', 30, 692, 10),
    { type: 'line', silent: true, shape: { x1: 447.5, y1: 666, x2: 447.5, y2: 700 }, style: { stroke: '#000', lineWidth: 1 } },
    tx('Ensemble GEFS du 25/01/2012 - 06h', 450, 671, 10),
    tx('Copyright 2012 Meteociel.fr', 450, 691, 11.4, true),
  ];
  memberColors.forEach((c, k) => {
    graphic.push({ type: 'rect', silent: true, shape: { x: 470 + 11 * k, y: 650, width: 9, height: 5 }, style: { fill: c } });
    graphic.push(tx(memberNames[k], 474.5 + 11 * k, 643, 7, false, 'center'));
  });

  const legendBase = (name: string, left: number, top: number, gap: number) => ({
    data: [name], left, top, padding: 0, itemWidth: 30, itemHeight: 4, icon: 'rect', selectedMode: false,
    textStyle: { fontFamily: FONT, fontSize: 10, color: '#000', padding: [0, 0, 0, gap] },
  });

  return {
    animation: false,
    grid: [
      { left: 50, top: 0, width: 640, height: 600 },
      { left: 50, top: 20, width: 640, height: 525 },
    ],
    legend: [
      legendBase('Run de contrôle', 225, 631, 4),
      legendBase('Run GFS', 225, 641, 4),
      legendBase('Moyenne des scénarios', 35, 646, 5),
    ],
    xAxis: [
      {
        type: 'category', gridIndex: 0, data: stepHours, boundaryGap: false,
        axisLine: { show: true, lineStyle: { color: '#000', width: 2 } },
        axisTick: { show: false },
        axisLabel: {
          interval: (i: number) => isDateIdx(i),
          formatter: (_v: string, i: number) => (isDateIdx(i) ? dateLabels[(i - firstDateIdx) / 4] : ''),
          rotate: 90, verticalAlign: 'top', margin: 3, fontSize: 10, fontFamily: FONT, color: '#000',
        },
        splitLine: { show: false },
      },
      { type: 'category', gridIndex: 1, data: stepHours, boundaryGap: false, show: false },
    ],
    yAxis: [
      { type: 'value', gridIndex: 0, min: 0, max: 600, inverse: true, position: 'left',
        axisLine: { show: true, lineStyle: { color: '#000', width: 2 } }, axisTick: { show: false },
        axisLabel: { show: false }, splitLine: { show: false } },
      { type: 'value', gridIndex: 0, min: 0, max: 600, inverse: true, position: 'right',
        axisLine: { show: true, lineStyle: { color: '#000', width: 2 } }, axisTick: { show: false },
        axisLabel: { show: false }, splitLine: { show: false } },
      { type: 'value', gridIndex: 1, min: leftTicks.min, max: leftTicks.max, interval: leftTicks.step, position: 'left',
        axisLine: { show: false }, axisTick: { show: false },
        axisLabel: { margin: 30, align: 'left', fontSize: 10, fontFamily: FONT, color: '#000' },
        splitLine: { show: true, lineStyle: { color: GRID_GREY, width: 1 } } },
      { type: 'value', gridIndex: 1, min: rightTicks.min, max: rightTicks.max, interval: rightTicks.step, position: 'right',
        axisLine: { show: false }, axisTick: { show: false },
        axisLabel: { margin: 18, align: 'left', fontSize: 10, fontFamily: FONT, color: '#000' },
        splitLine: { show: false } },
    ],
    graphic,
    series,
  };
}

export default function App() {
  const ref = useRef<HTMLDivElement>(null);
  useEffect(() => {
    document.body.style.margin = '0';
    if (!ref.current) return;
    const chart = echarts.init(ref.current, null, { renderer: 'svg' });
    chart.setOption(buildOption() as any);
    return () => chart.dispose();
  }, []);
  return <div ref={ref} style={{ position: 'absolute', left: 0, top: 0, width: 740, height: 700, background: '#fff' }} />;
}
